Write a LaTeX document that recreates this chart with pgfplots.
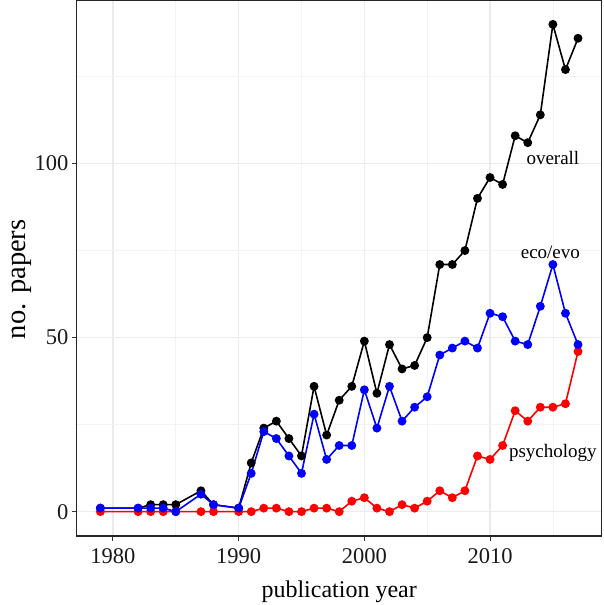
\documentclass[border=0pt]{standalone}
\usepackage{fontspec}
\setmainfont{Liberation Serif}
\usepackage{pgfplots}
\pgfplotsset{compat=1.18}
\definecolor{gridmaj}{HTML}{EBEBEB}
\definecolor{gridmin}{HTML}{F3F3F3}

\pgfplotstableread{
year overall eco psych
1979 1 1 0
1982 1 1 0
1983 2 1 0
1984 2 1 0
1985 2 0 0
1987 6 5 0
1988 2 2 0
1990 1 1 0
1991 14 11 0
1992 24 23 1
1993 26 21 1
1994 21 16 0
1995 16 11 0
1996 36 28 1
1997 22 15 1
1998 32 19 0
1999 36 19 3
2000 49 35 4
2001 34 24 1
2002 48 36 0
2003 41 26 2
2004 42 30 1
2005 50 33 3
2006 71 45 6
2007 71 47 4
2008 75 49 6
2009 90 47 16
2010 96 57 15
2011 94 56 19
2012 108 49 29
2013 106 48 26
2014 114 59 30
2015 140 71 30
2016 127 57 31
2017 136 48 46
}\papers

\begin{document}
\begin{tikzpicture}[x=1pt,y=1pt]
\path[use as bounding box] (0,0) rectangle (603,605);
\begin{axis}[
  at={(76.5pt,69pt)}, anchor=south west,
  scale only axis, width=525.4pt, height=536pt,
  xmin=1977.1, xmax=2018.9, ymin=-7, ymax=147,
  xtick={1980,1990,2000,2010},
  minor xtick={1985,1995,2005,2015},
  ytick={0,50,100},
  minor ytick={25,75,125},
  /pgf/number format/1000 sep={},
  /pgf/number format/assume math mode=true,
  tick label style={font=\fontsize{22.5}{24}\selectfont, text=black!90},
  xticklabel style={yshift=-5pt},
  tick align=outside,
  major tick length=4.5pt,
  minor tick length=0pt,
  tick style={black!80, line width=1pt},
  axis line style={black!85, line width=1.1pt},
  grid=both,
  major grid style={draw=gridmaj, line width=1.1pt},
  minor grid style={draw=gridmin, line width=0.6pt},
  xtick pos=bottom, ytick pos=left,
  xlabel={publication year},
  ylabel={no. papers},
  xlabel style={font=\fontsize{24}{26}\selectfont, at={(axis description cs:0.5,-0.1045)}, anchor=center},
  ylabel style={font=\fontsize{28.5}{30}\selectfont, at={(axis description cs:-0.1035,0.479)}, anchor=center, rotate=0},
  clip=false,
]
\addplot[black, line width=1.6pt, mark=*, mark size=3.6pt] table[x=year, y=overall] {\papers};
\addplot[red, line width=1.6pt, mark=*, mark size=3.6pt] table[x=year, y=psych] {\papers};
\addplot[blue, line width=1.6pt, mark=*, mark size=3.6pt] table[x=year, y=eco] {\papers};
\node[font=\fontsize{19}{21}\selectfont] at (axis cs:2015,101.5) {overall};
\node[font=\fontsize{19}{21}\selectfont] at (axis cs:2014.8,74.5) {eco/evo};
\node[font=\fontsize{19}{21}\selectfont] at (axis cs:2015,17) {psychology};
\end{axis}
\end{tikzpicture}
\end{document}
